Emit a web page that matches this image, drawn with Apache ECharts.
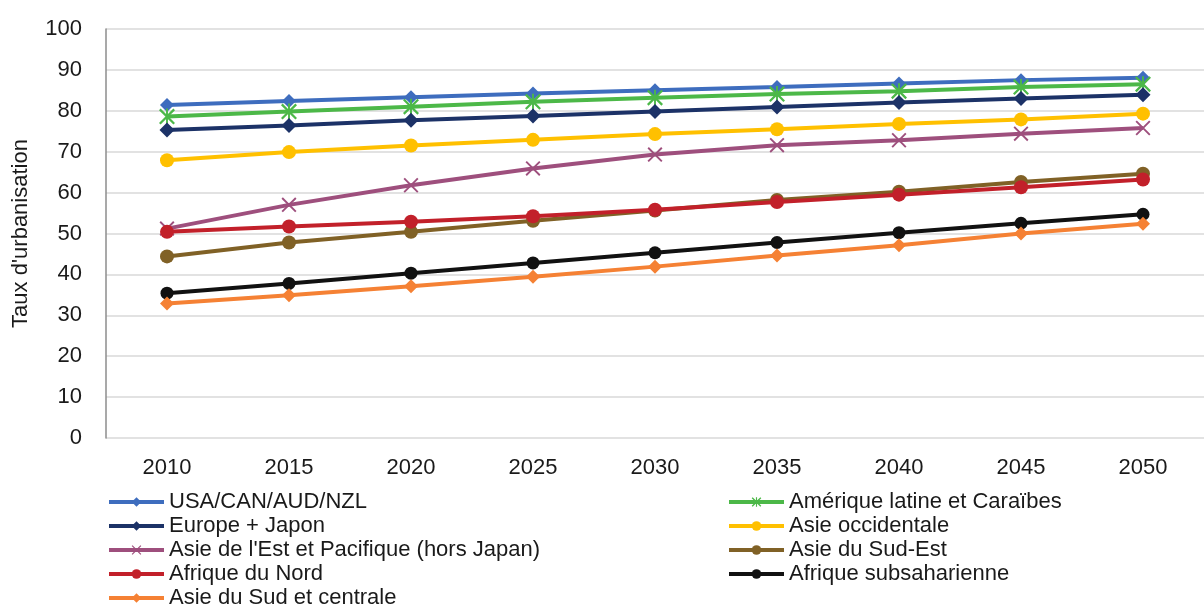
<!DOCTYPE html>
<html><head><meta charset="utf-8">
<script src="https://cdn.jsdelivr.net/npm/echarts@6/dist/echarts.min.js"></script>
<style>html,body{margin:0;padding:0;background:#fff}#c{width:1204px;height:608px}</style>
</head><body><div id="c"></div>
<script>
const years = ['2010','2015','2020','2025','2030','2035','2040','2045','2050'];
const yTicks = [0,10,20,30,40,50,60,70,80,90,100];
const usa      = [81.4, 82.4, 83.3, 84.2, 85.0, 85.8, 86.7, 87.5, 88.1];
const amLat    = [78.6, 79.8, 81.0, 82.2, 83.2, 84.1, 84.8, 85.8, 86.5];
const europe   = [75.3, 76.4, 77.7, 78.7, 79.8, 80.9, 82.0, 83.0, 83.9];
const asieOcc  = [67.9, 69.9, 71.5, 72.9, 74.3, 75.5, 76.8, 77.9, 79.3];
const asieEst  = [51.2, 57.0, 61.8, 65.9, 69.3, 71.6, 72.8, 74.4, 75.8];
const asieSE   = [44.4, 47.8, 50.4, 53.1, 55.6, 58.2, 60.2, 62.6, 64.6];
const afrNord  = [50.4, 51.7, 52.9, 54.2, 55.8, 57.7, 59.5, 61.3, 63.2];
const afrSub   = [35.4, 37.8, 40.3, 42.8, 45.3, 47.8, 50.2, 52.5, 54.7];
const asieSud  = [32.9, 34.9, 37.1, 39.4, 41.9, 44.6, 47.1, 50.0, 52.4];

const names = ['USA/CAN/AUD/NZL','Amérique latine et Caraïbes','Europe + Japon','Asie occidentale',
  "Asie de l'Est et Pacifique (hors Japan)",'Asie du Sud-Est','Afrique du Nord','Afrique subsaharienne','Asie du Sud et centrale'];
const datas = [usa, amLat, europe, asieOcc, asieEst, asieSE, afrNord, afrSub, asieSud];
const colors = ['#3E6DBE','#4CB848','#1C3267','#FFC000','#9E4F7D','#806126','#C2202A','#111111','#F58134'];
const STAR = 'path://M0,1 L1,0 L10,9 L9,10 Z M9,0 L10,1 L1,10 L0,9 Z M4.4,0 L5.6,0 L5.6,10 L4.4,10 Z';
const CROSS = 'path://M0,0.9 L0.9,0 L10,9.1 L9.1,10 Z M9.1,0 L10,0.9 L0.9,10 L0,9.1 Z';
const symbols = ['diamond', STAR, 'diamond', 'circle', CROSS, 'circle', 'circle', 'circle', 'diamond'];
const sizes = [14, 16, 15, 14, 15, 14, 14, 13, 14];

const font = 'Liberation Sans, Arial, sans-serif';
const series = names.map((n,i)=>({
  name: n, type: 'line', data: datas[i], symbol: symbols[i], symbolSize: sizes[i],
  symbolKeepAspect: true,
  lineStyle: {color: colors[i], width: 4}, itemStyle: {color: colors[i]},
  emphasis: {disabled: true}, animation: false, z: 2 + i
}));
const legendCommon = {
  orient: 'vertical', top: 490, height: 140, padding: 0, itemWidth: 55, itemHeight: 12, itemGap: 0,
  lineStyle: {width: 4},
  textStyle: {fontFamily: font, fontSize: 22, color: '#1a1a1a', lineHeight: 24}
};
const chart = echarts.init(document.getElementById('c'), null, {renderer: 'canvas'});
chart.setOption({
  backgroundColor: '#fff',
  animation: false,
  grid: {left: 106, top: 29, width: 1112, height: 409, containLabel: false},
  legend: [
    Object.assign({left: 107, data: [names[0], names[2], names[4], names[6], names[8]]}, legendCommon),
    Object.assign({left: 727, data: [names[1], names[3], names[5], names[7]]}, legendCommon)
  ],
  xAxis: {
    type: 'category', data: years, boundaryGap: true,
    axisLine: {show: false}, axisTick: {show: false},
    axisLabel: {fontFamily: font, fontSize: 22, color: '#1a1a1a', margin: 19}
  },
  yAxis: {
    type: 'value', min: 0, max: 100, interval: 10,
    name: "Taux d'urbanisation", nameLocation: 'middle', nameGap: 74, nameRotate: 90,
    nameTextStyle: {fontFamily: font, fontSize: 22, color: '#1a1a1a'},
    axisLine: {show: true, lineStyle: {color: '#8c8c8c', width: 1.5}},
    axisTick: {show: false},
    axisLabel: {fontFamily: font, fontSize: 22, color: '#1a1a1a', margin: 24,
      formatter: v => yTicks.includes(v) ? String(v) : ''},
    splitLine: {show: true, lineStyle: {color: '#d9d9d9', width: 1.5}}
  },
  series: series
});
</script></body></html>
